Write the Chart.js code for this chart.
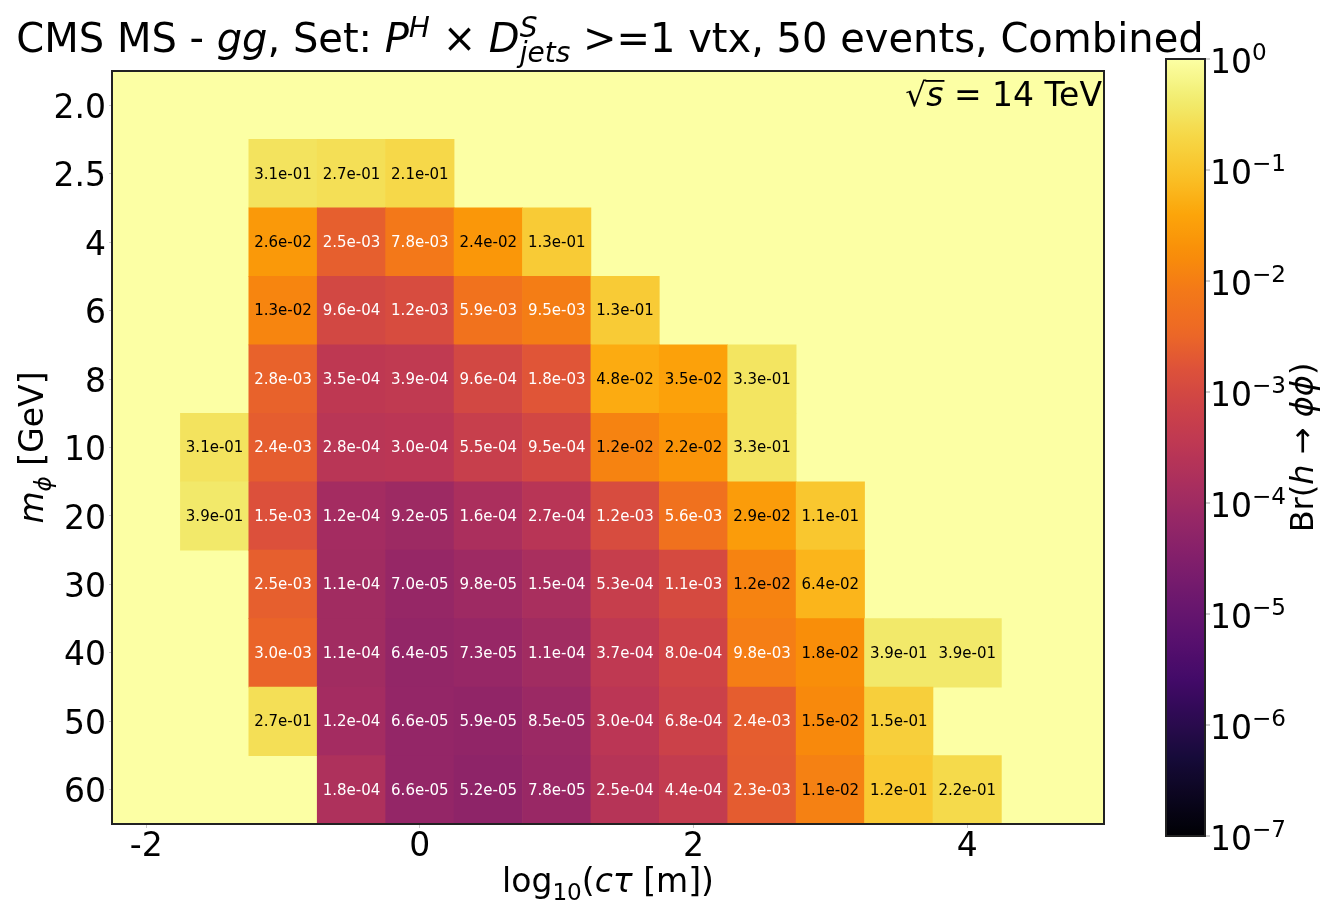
<!DOCTYPE html>
<html>
<head>
<meta charset="utf-8">
<title>CMS MS - gg, Br(h → ϕϕ)</title>
<script src="https://cdn.jsdelivr.net/npm/chart.js@4.4.1/dist/chart.umd.min.js"></script>
<style>
  html, body { margin: 0; padding: 0; background: #fff; }
  #lienzo { position: relative; width: 1338px; height: 912px; }
  #mapa { position: absolute; left: 0; top: 0; }
  #barra { position: absolute; left: 1140px; top: 0; }
</style>
</head>
<body>
<div id="lienzo">
  <canvas id="mapa" width="1338" height="912"></canvas>
  <canvas id="barra" width="198" height="912"></canvas>
</div>
<script>
// Datos del mapa: centros de log10(cτ) y masas del escalar
const ctauCentros = [-1.5, -1, -0.5, 0, 0.5, 1, 1.5, 2, 2.5, 3, 3.5, 4];
const masas = ['2.0', '2.5', '4', '6', '8', '10', '20', '30', '40', '50', '60'];

// Límite en Br(h -> ϕϕ) por fila de masa (null = sin límite, queda en Br = 1)
const br_2p0 = [null, null, null, null, null, null, null, null, null, null, null, null];
const br_2p5 = [null, 3.1e-1, 2.7e-1, 2.1e-1, null, null, null, null, null, null, null, null];
const br_4   = [null, 2.6e-2, 2.5e-3, 7.8e-3, 2.4e-2, 1.3e-1, null, null, null, null, null, null];
const br_6   = [null, 1.3e-2, 9.6e-4, 1.2e-3, 5.9e-3, 9.5e-3, 1.3e-1, null, null, null, null, null];
const br_8   = [null, 2.8e-3, 3.5e-4, 3.9e-4, 9.6e-4, 1.8e-3, 4.8e-2, 3.5e-2, 3.3e-1, null, null, null];
const br_10  = [3.1e-1, 2.4e-3, 2.8e-4, 3.0e-4, 5.5e-4, 9.5e-4, 1.2e-2, 2.2e-2, 3.3e-1, null, null, null];
const br_20  = [3.9e-1, 1.5e-3, 1.2e-4, 9.2e-5, 1.6e-4, 2.7e-4, 1.2e-3, 5.6e-3, 2.9e-2, 1.1e-1, null, null];
const br_30  = [null, 2.5e-3, 1.1e-4, 7.0e-5, 9.8e-5, 1.5e-4, 5.3e-4, 1.1e-3, 1.2e-2, 6.4e-2, null, null];
const br_40  = [null, 3.0e-3, 1.1e-4, 6.4e-5, 7.3e-5, 1.1e-4, 3.7e-4, 8.0e-4, 9.8e-3, 1.8e-2, 3.9e-1, 3.9e-1];
const br_50  = [null, 2.7e-1, 1.2e-4, 6.6e-5, 5.9e-5, 8.5e-5, 3.0e-4, 6.8e-4, 2.4e-3, 1.5e-2, 1.5e-1, null];
const br_60  = [null, null, 1.8e-4, 6.6e-5, 5.2e-5, 7.8e-5, 2.5e-4, 4.4e-4, 2.3e-3, 1.1e-2, 1.2e-1, 2.2e-1];

// Escala de color y marcas
const brMin = 1e-7;
const brMax = 1;
const ticksX = [-2, 0, 2, 4];
const expBarra = [-7, -6, -5, -4, -3, -2, -1, 0];
const umbralTexto = 1e-2;

const FUENTE = '"DejaVu Sans", sans-serif';

// Mapa de color inferno (paradas de matplotlib)
const paradasInferno = [
  [0.00, [0, 0, 4]], [0.10, [22, 11, 57]], [0.20, [66, 10, 104]], [0.25, [87, 16, 110]],
  [0.30, [106, 23, 110]], [0.35, [127, 30, 108]], [0.40, [147, 38, 103]], [0.45, [168, 46, 95]],
  [0.50, [188, 55, 84]], [0.55, [204, 66, 72]], [0.60, [221, 81, 58]], [0.65, [237, 105, 37]],
  [0.70, [243, 120, 25]], [0.75, [249, 142, 9]], [0.80, [252, 165, 10]], [0.85, [250, 193, 39]],
  [0.90, [246, 215, 70]], [0.95, [241, 237, 113]], [1.00, [252, 255, 164]]
];

function inferno(t) {
  t = Math.max(0, Math.min(1, t));
  for (let i = 1; i < paradasInferno.length; i++) {
    const [t1, c1] = paradasInferno[i];
    const [t0, c0] = paradasInferno[i - 1];
    if (t <= t1) {
      const f = (t - t0) / (t1 - t0);
      const c = c0.map((v, k) => Math.round(v + (c1[k] - v) * f));
      return 'rgb(' + c.join(',') + ')';
    }
  }
  return 'rgb(252,255,164)';
}

function fraccionLog(v) {
  return (Math.log10(v) - Math.log10(brMin)) / (Math.log10(brMax) - Math.log10(brMin));
}

function formatoExp(v) {
  const [m, e] = v.toExponential(1).split('e');
  const n = Math.abs(parseInt(e, 10));
  return m + 'e' + (e[0] === '-' ? '-' : '+') + (n < 10 ? '0' : '') + n;
}

// Celdas del mapa a partir de las filas
const filas = [br_2p0, br_2p5, br_4, br_6, br_8, br_10, br_20, br_30, br_40, br_50, br_60];
const celdas = [];
filas.forEach(function(fila, i) {
  fila.forEach(function(v, j) {
    if (v === null) return;
    celdas.push({ x: [ctauCentros[j] - 0.25, ctauCentros[j] + 0.25], y: masas[i], v: v });
  });
});

// Texto con cursiva, superíndices y subíndices (estilo mathtext)
function medirRico(ctx, partes, tam) {
  let x = 0, iniPrev = 0, anchoPrev = 0;
  const items = [];
  partes.forEach(function(p) {
    const fs = (p.sup || p.sub) ? tam * 0.7 : tam;
    ctx.font = (p.it ? 'italic ' : '') + fs + 'px ' + FUENTE;
    const w = ctx.measureText(p.t).width;
    let ini = x;
    if (p.apilar) { ini = iniPrev; x = iniPrev + Math.max(anchoPrev, w); }
    else x += w;
    const dy = p.sup ? -tam * 0.38 : (p.sub ? tam * 0.24 : 0);
    items.push({ p: p, fs: fs, ini: ini, w: w, dy: dy });
    iniPrev = ini; anchoPrev = w;
  });
  return { items: items, ancho: x };
}

function dibujarRico(ctx, partes, x, y, tam, alinear, color) {
  const m = medirRico(ctx, partes, tam);
  let x0 = x;
  if (alinear === 'center') x0 = x - m.ancho / 2;
  else if (alinear === 'right') x0 = x - m.ancho;
  ctx.save();
  ctx.fillStyle = color || '#000';
  ctx.strokeStyle = color || '#000';
  ctx.textAlign = 'left';
  ctx.textBaseline = 'alphabetic';
  m.items.forEach(function(it) {
    ctx.font = (it.p.it ? 'italic ' : '') + it.fs + 'px ' + FUENTE;
    ctx.fillText(it.p.t, x0 + it.ini, y + it.dy);
    if (it.p.raya) {
      // barra de la raíz cuadrada
      ctx.lineWidth = tam * 0.055;
      const yb = y - tam * 0.76;
      ctx.beginPath();
      ctx.moveTo(x0 + it.ini - 1, yb);
      ctx.lineTo(x0 + it.ini + it.w + 1, yb);
      ctx.stroke();
    }
  });
  ctx.restore();
}

// Fondo del área: Br = 1 donde no hay límite
const pluginFondo = {
  id: 'fondo',
  beforeDatasetsDraw(chart) {
    const { ctx, chartArea: a } = chart;
    ctx.save();
    ctx.fillStyle = inferno(fraccionLog(brMax));
    ctx.fillRect(a.left, a.top, a.right - a.left, a.bottom - a.top);
    ctx.restore();
  }
};

// Valores escritos en cada celda
const pluginEtiquetas = {
  id: 'etiquetas',
  afterDatasetsDraw(chart) {
    const ctx = chart.ctx;
    const meta = chart.getDatasetMeta(0);
    ctx.save();
    ctx.font = '15px ' + FUENTE;
    ctx.textAlign = 'center';
    ctx.textBaseline = 'middle';
    meta.data.forEach(function(el, i) {
      const v = celdas[i].v;
      const p = el.getCenterPoint();
      ctx.fillStyle = v < umbralTexto ? '#ffffff' : '#000000';
      ctx.fillText(formatoExp(v), p.x, p.y + 1);
    });
    ctx.restore();
  }
};

// Marco, título y rótulos de ejes
const pluginTextos = {
  id: 'textos',
  afterDraw(chart) {
    const { ctx, chartArea: a } = chart;
    ctx.save();
    ctx.strokeStyle = '#222222';
    ctx.lineWidth = 2;
    ctx.strokeRect(a.left, a.top, a.right - a.left, a.bottom - a.top);
    ctx.restore();

    const cx = (a.left + a.right) / 2;
    dibujarRico(ctx, [
      { t: 'CMS MS - ' }, { t: 'gg', it: true }, { t: ', Set: ' },
      { t: 'P', it: true }, { t: 'H', it: true, sup: true }, { t: ' × ' },
      { t: 'D', it: true }, { t: 'S', it: true, sup: true }, { t: 'jets', it: true, sub: true, apilar: true },
      { t: ' >=1 vtx, 50 events, Combined' }
    ], cx + 2, 52, 40, 'center');

    dibujarRico(ctx, [
      { t: 'log' }, { t: '10', sub: true }, { t: '(' }, { t: 'cτ', it: true }, { t: ' [m])' }
    ], cx, 892, 33, 'center');

    ctx.save();
    ctx.translate(43, (a.top + a.bottom) / 2);
    ctx.rotate(-Math.PI / 2);
    dibujarRico(ctx, [{ t: 'm', it: true }, { t: 'ϕ', it: true, sub: true }, { t: ' [GeV]' }], 0, 0, 33, 'center');
    ctx.restore();

    dibujarRico(ctx, [{ t: '√' }, { t: 's', it: true, raya: true }, { t: ' = 14 TeV' }], a.right - 2, a.top + 35, 33, 'right');
  }
};

new Chart(document.getElementById('mapa'), {
  type: 'bar',
  data: {
    labels: masas,
    datasets: [{
      data: celdas,
      backgroundColor: function(c) { return c.raw ? inferno(fraccionLog(c.raw.v)) : '#000'; },
      borderWidth: 0,
      barPercentage: 1,
      categoryPercentage: 1,
      grouped: false
    }]
  },
  options: {
    indexAxis: 'y',
    responsive: false,
    animation: false,
    layout: { padding: { top: 71, right: 234, left: 0, bottom: 0 } },
    plugins: { legend: { display: false }, tooltip: { enabled: false } },
    scales: {
      x: {
        type: 'linear', min: -2.25, max: 5,
        afterBuildTicks: function(s) { s.ticks = ticksX.map(function(v) { return { value: v }; }); },
        afterFit: function(s) { s.height = 88; },
        grid: { drawOnChartArea: false, tickLength: 4, color: '#c8c8c8' },
        border: { display: false },
        ticks: { font: { family: FUENTE, size: 33 }, color: '#000', padding: 0, maxRotation: 0, autoSkip: false }
      },
      y: {
        type: 'category',
        afterFit: function(s) { s.width = 112; },
        grid: { drawOnChartArea: false, tickLength: 3, color: '#c8c8c8', offset: false },
        border: { display: false },
        ticks: { font: { family: FUENTE, size: 33 }, color: '#000', padding: 3, labelOffset: 4, autoSkip: false }
      }
    }
  },
  plugins: [pluginFondo, pluginEtiquetas, pluginTextos]
});

// Barra de color con su propia escala logarítmica
const pluginBarra = {
  id: 'barraColor',
  afterDraw(chart) {
    const { ctx, chartArea: a } = chart;
    const y = chart.scales.y;
    const lmin = Math.log10(brMin), lmax = Math.log10(brMax);
    const grad = ctx.createLinearGradient(0, a.bottom, 0, a.top);
    for (let k = 0; k <= 70; k++) {
      const t = k / 70;
      const py = y.getPixelForValue(Math.pow(10, lmin + t * (lmax - lmin)));
      const off = Math.max(0, Math.min(1, (a.bottom - py) / (a.bottom - a.top)));
      grad.addColorStop(off, inferno(t));
    }
    ctx.save();
    ctx.fillStyle = grad;
    ctx.fillRect(a.left, a.top, a.right - a.left, a.bottom - a.top);
    ctx.strokeStyle = '#222222';
    ctx.lineWidth = 2;
    ctx.strokeRect(a.left, a.top, a.right - a.left, a.bottom - a.top);
    ctx.strokeStyle = '#c0c0c0';
    ctx.lineWidth = 1.5;
    expBarra.forEach(function(e) {
      const py = y.getPixelForValue(Math.pow(10, e));
      ctx.beginPath();
      ctx.moveTo(a.right + 1, py);
      ctx.lineTo(a.right + 5, py);
      ctx.stroke();
    });
    ctx.restore();
    expBarra.forEach(function(e) {
      const py = y.getPixelForValue(Math.pow(10, e));
      const txt = e < 0 ? '\u2212' + Math.abs(e) : String(e);
      dibujarRico(ctx, [{ t: '10' }, { t: txt, sup: true }], a.right + 5, py + 14, 33, 'left');
    });
    ctx.save();
    ctx.translate(173, (a.top + a.bottom) / 2);
    ctx.rotate(-Math.PI / 2);
    dibujarRico(ctx, [
      { t: 'Br(' }, { t: 'h', it: true }, { t: ' → ' }, { t: 'ϕϕ', it: true }, { t: ')' }
    ], 0, 0, 32, 'center');
    ctx.restore();
  }
};

new Chart(document.getElementById('barra'), {
  type: 'scatter',
  data: { datasets: [] },
  options: {
    responsive: false,
    animation: false,
    layout: { padding: { left: 26, top: 59, bottom: 76, right: 0 } },
    plugins: { legend: { display: false }, tooltip: { enabled: false } },
    scales: {
      x: { type: 'linear', display: false },
      y: {
        type: 'logarithmic', position: 'right', min: brMin, max: brMax,
        afterBuildTicks: function(s) { s.ticks = expBarra.map(function(e) { return { value: Math.pow(10, e) }; }); },
        afterFit: function(s) { s.width = 133; },
        grid: { display: false },
        border: { display: false },
        ticks: { display: false }
      }
    }
  },
  plugins: [pluginBarra]
});
</script>
</body>
</html>
